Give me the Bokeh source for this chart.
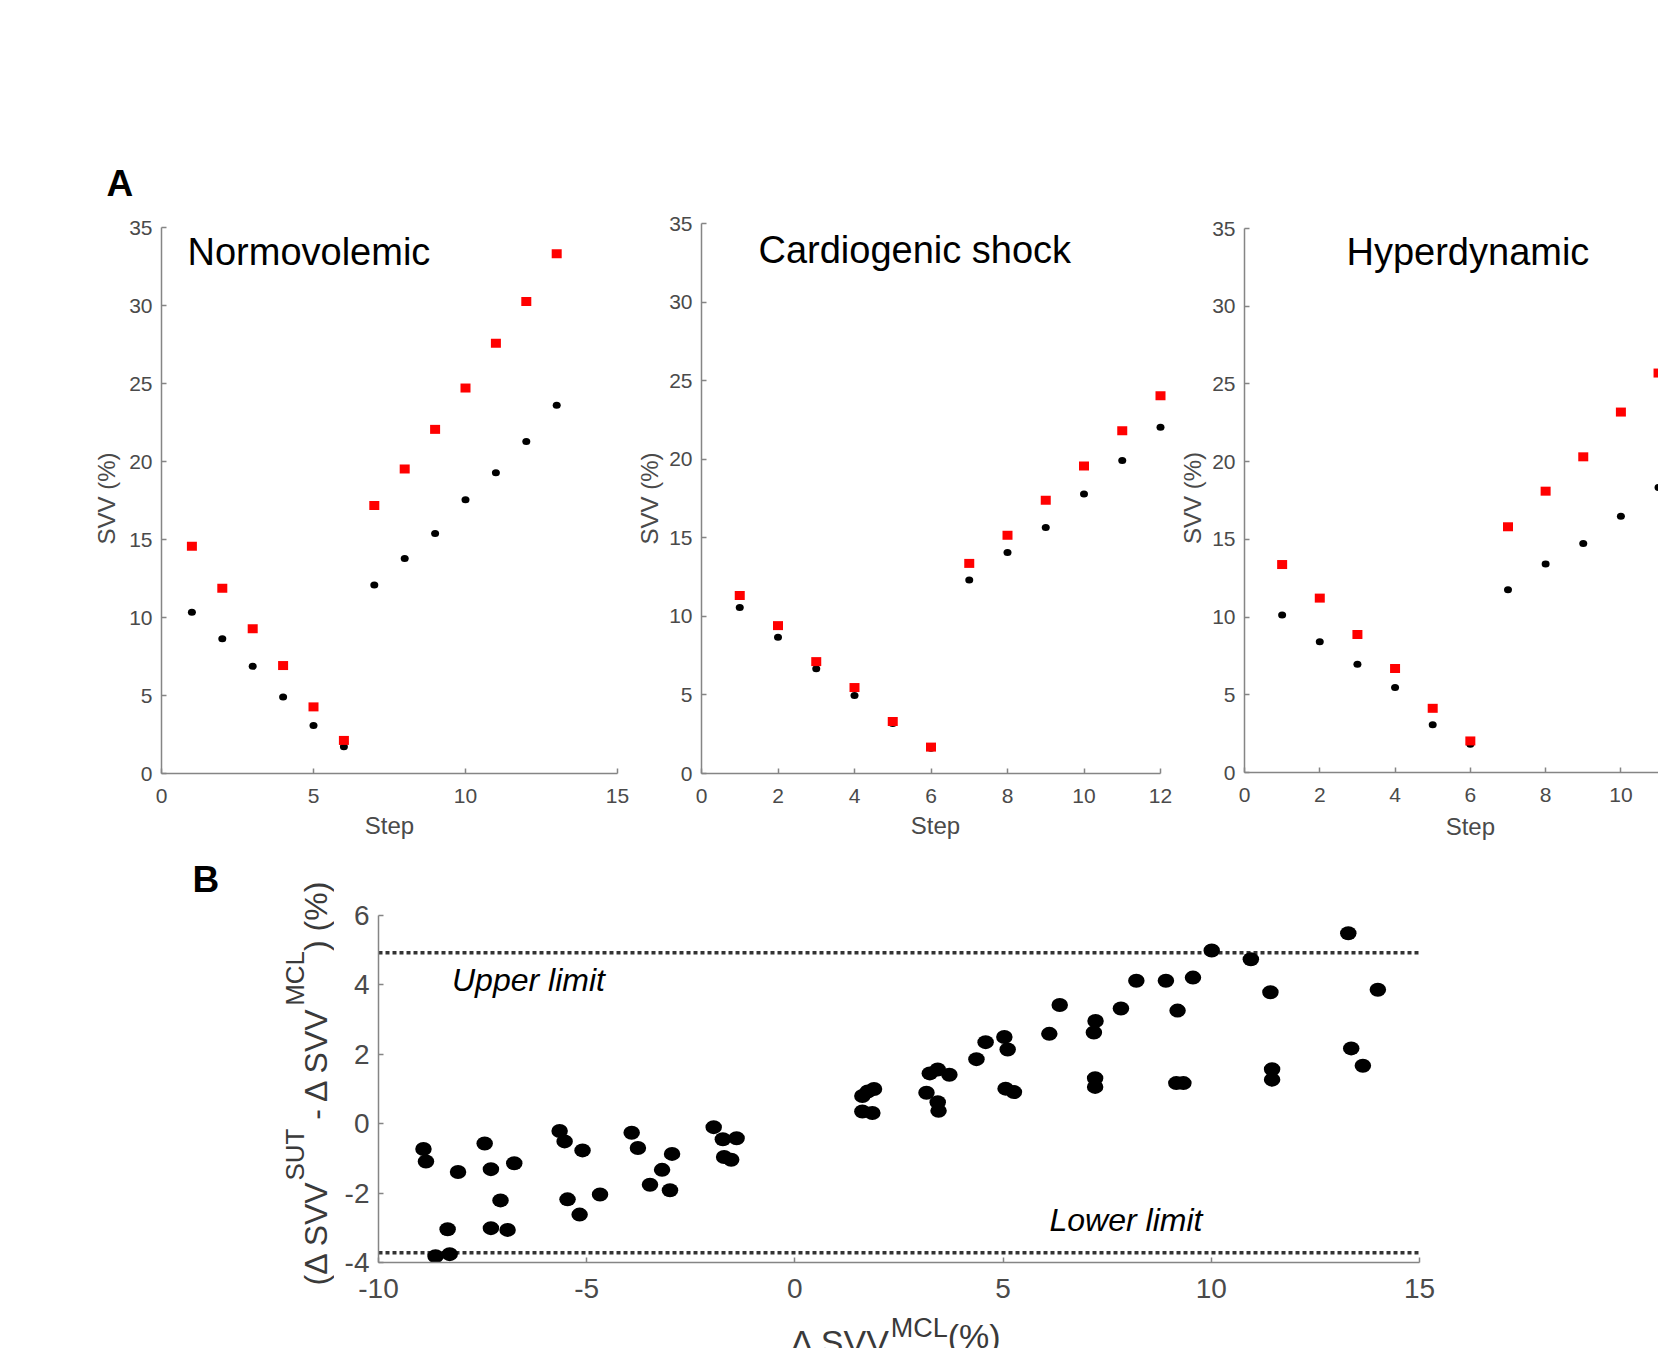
import math
from bokeh.plotting import figure
from bokeh.models import Range1d, FixedTicker, Label, Span
from bokeh.layouts import column, row
from bokeh.embed import file_html
from bokeh.resources import INLINE

# ---------------- data ----------------
steps_norm = [1, 2, 3, 4, 5, 6, 7, 8, 9, 10, 11, 12, 13]
norm_red = [14.56, 11.88, 9.28, 6.92, 4.27, 2.12, 17.18, 19.52, 22.06, 24.71, 27.58, 30.26, 33.31]
norm_black = [10.34, 8.64, 6.87, 4.91, 3.08, 1.72, 12.09, 13.79, 15.38, 17.55, 19.28, 21.29, 23.60]

steps_card = [1, 2, 3, 4, 5, 6, 7, 8, 9, 10, 11, 12]
card_red = [11.32, 9.41, 7.12, 5.47, 3.31, 1.68, 13.37, 15.16, 17.39, 19.57, 21.81, 24.04]
card_black = [10.56, 8.67, 6.67, 4.97, 3.18, 1.60, 12.32, 14.06, 15.66, 17.79, 19.92, 22.04]

steps_hyper = [1, 2, 3, 4, 5, 6, 7, 8, 9, 10, 11]
hyper_red = [13.38, 11.22, 8.88, 6.69, 4.13, 2.03, 15.81, 18.10, 20.31, 23.19, 25.70]
hyper_black = [10.13, 8.42, 6.96, 5.47, 3.07, 1.81, 11.76, 13.41, 14.74, 16.48, 18.34]

ba_x = [-8.92, -8.86, -8.09, -8.34, -8.63, -8.29,
        -7.45, -7.30, -6.74, -7.07, -7.30, -6.90,
        -5.65, -5.53, -5.10, -5.46, -5.17, -4.68,
        -3.92, -3.77, -2.95, -3.19, -3.48, -3.00,
        -1.95, -1.73, -1.40, -1.70, -1.53,
        1.62, 1.75, 1.90, 1.62, 1.86,
        3.16, 3.43, 3.24, 3.71, 3.43, 3.45,
        4.36, 4.58, 5.03, 5.11, 5.06, 5.26,
        6.11, 6.36, 7.22, 7.18, 7.21, 7.21,
        7.83, 8.20, 8.91, 9.19, 9.16, 9.33,
        9.56, 10.01, 10.95, 11.42, 11.46, 11.46,
        13.29, 13.36, 13.64, 14.00]
ba_y = [-0.73, -1.09, -1.39, -3.04, -3.82, -3.76,
        -0.57, -1.31, -1.14, -2.21, -3.01, -3.06,
        -0.21, -0.51, -0.77, -2.18, -2.62, -2.04,
        -0.26, -0.70, -0.87, -1.33, -1.76, -1.92,
        -0.10, -0.45, -0.42, -0.96, -1.04,
        0.80, 0.93, 1.00, 0.35, 0.31,
        0.89, 1.56, 1.45, 1.41, 0.62, 0.37,
        1.86, 2.35, 2.50, 2.14, 1.01, 0.91,
        2.59, 3.42, 2.96, 2.63, 1.31, 1.06,
        3.32, 4.12, 4.12, 3.26, 1.17, 1.17,
        4.21, 4.99, 4.74, 3.79, 1.57, 1.27,
        5.49, 2.17, 1.67, 3.86]
upper_limit = 4.93
lower_limit = -3.72

svv_ticks = [0, 5, 10, 15, 20, 25, 30, 35]
norm_xticks = [0, 5, 10, 15]
step_xticks = [0, 2, 4, 6, 8, 10, 12]
ba_xticks = [-10, -5, 0, 5, 10, 15]
ba_yticks = [-4, -2, 0, 2, 4, 6]

# ---------------- style ----------------
FONT = "Liberation Sans"
AXIS_GRAY = "#858585"
TICK_GRAY = "#4a4a4a"
LABEL_DARK = "#3a3a3a"
EM = {'(': 0.333, ')': 0.333, 'Δ': 0.667, ' ': 0.278, 'S': 0.667, 'V': 0.667,
      'U': 0.722, 'T': 0.611, '-': 0.333, 'M': 0.833, 'C': 0.722, 'L': 0.556, '%': 0.889}


def em_width(s):
    return sum(EM.get(c, 0.556) for c in s)


def make_fig(width, height, xr, yr, lb, rb, tb, bb):
    p = figure(width=width, height=height, x_range=Range1d(*xr), y_range=Range1d(*yr),
               output_backend="svg", toolbar_location=None, title=None,
               min_border_left=lb, min_border_right=rb, min_border_top=tb, min_border_bottom=bb)
    p.outline_line_color = None
    p.grid.visible = False
    p.background_fill_color = "white"
    p.border_fill_color = "white"
    return p


def text_fig(width, height, x0, x1, y0, y1):
    """text-only figure; its frame spans page x0..x1, y0..y1 so data == page px"""
    p = figure(width=width, height=height, x_range=Range1d(x0, x1), y_range=Range1d(y1, y0),
               output_backend="svg", toolbar_location=None, title=None,
               x_axis_type=None, y_axis_type=None,
               min_border_left=0, min_border_right=0, min_border_top=0, min_border_bottom=0)
    p.outline_line_color = None
    p.grid.visible = False
    p.background_fill_color = "white"
    p.border_fill_color = "white"
    return p


def style_axes(p, xticks, yticks, tick_size, xstand, ystand):
    for ax in (p.xaxis[0], p.yaxis[0]):
        ax.axis_line_color = AXIS_GRAY
        ax.axis_line_width = 1.5
        ax.major_tick_line_color = AXIS_GRAY
        ax.major_tick_line_width = 1.5
        ax.major_tick_in = 5
        ax.major_tick_out = 0
        ax.minor_tick_line_color = None
        ax.major_label_text_font = FONT
        ax.major_label_text_font_size = tick_size
        ax.major_label_text_color = TICK_GRAY
        ax.axis_label_text_font = FONT
        ax.axis_label_text_font_style = "normal"
        ax.axis_label_text_color = TICK_GRAY
        ax.axis_label_text_font_size = "24px"
    p.xaxis[0].ticker = FixedTicker(ticks=xticks)
    p.yaxis[0].ticker = FixedTicker(ticks=yticks)
    p.xaxis[0].major_label_overrides = {t: str(t) for t in xticks}
    p.yaxis[0].major_label_overrides = {t: str(t) for t in yticks}
    p.xaxis[0].major_label_standoff = xstand
    p.yaxis[0].major_label_standoff = ystand


class Geom:
    """page-pixel geometry of a frame, for converting page positions to data"""
    def __init__(self, left, right, top, bottom, x0, x1, y0, y1):
        self.left, self.right, self.top, self.bottom = left, right, top, bottom
        self.x0, self.x1, self.y0, self.y1 = x0, x1, y0, y1

    def x(self, px):
        return self.x0 + (px - self.left) * (self.x1 - self.x0) / (self.right - self.left)

    def y(self, py):
        return self.y0 + (self.bottom - py) * (self.y1 - self.y0) / (self.bottom - self.top)


class PageGeom:
    """identity mapping for text figures (data == page px)"""
    def x(self, px):
        return px

    def y(self, py):
        return py


PAGE = PageGeom()


def add_text(p, g, px, py, text, size, align="left", style="normal", angle=0.0, color="black"):
    # (px, py): start (or centre) of the text and the vertical middle of its capitals
    p.add_layout(Label(x=g.x(px), y=g.y(py), text=text, text_font=FONT,
                       text_font_size=f"{size}px", text_font_style=style,
                       text_color=color, text_align=align, text_baseline="alphabetic",
                       angle=angle))


def svv_panel(p, steps, red, black):
    p.ellipse(x=steps, y=black, width=8, height=7, width_units="screen",
              height_units="screen", fill_color="black", line_color=None)
    p.rect(x=steps, y=red, width=10, height=9, width_units="screen",
           height_units="screen", fill_color="#ff0000", line_color=None)


ROW_TOP, ROW_BOT = 207, 850
ROW_H = ROW_BOT - ROW_TOP
FRAME_TOP = 223  # common frame top of the three panels (rows align their frames)

# ---- header strip with panel letter A ----
header = text_fig(1658, ROW_TOP, 0, 1658, 0, ROW_TOP)
add_text(header, PAGE, 106, 183, "A", 37, style="bold")

# ---- panel A1: Normovolemic (page x 0..629); its y axis tops out at page 227 ----
F1_R = 629
y_end1 = 35 * (773 - FRAME_TOP) / (773 - 227)
g1 = Geom(161, 617, FRAME_TOP, 773, 0, 15, 0, y_end1)
f1 = make_fig(F1_R, ROW_H, (0, 15), (0, y_end1), 161, F1_R - 617, FRAME_TOP - ROW_TOP, ROW_BOT - 773)
style_axes(f1, norm_xticks, svv_ticks, "21px", 15, 9)
f1.yaxis.bounds = (0, 35)
f1.xaxis.axis_label = "Step"
f1.yaxis.axis_label = "SVV (%)"
f1.xaxis.axis_label_standoff = 6
f1.yaxis.axis_label_standoff = 6
svv_panel(f1, steps_norm, norm_red, norm_black)
add_text(f1, g1, 187, 251, "Normovolemic", 38)

# ---- panel A2: Cardiogenic shock (page x 629..1172) ----
F2_R = 1172
px_per_step2 = 38.25
x_end2 = (1169 - 701) / px_per_step2
g2 = Geom(701, 1169, FRAME_TOP, 773, 0, x_end2, 0, 35)
f2 = make_fig(F2_R - F1_R, ROW_H, (0, x_end2), (0, 35), 701 - F1_R, F2_R - 1169,
              FRAME_TOP - ROW_TOP, ROW_BOT - 773)
style_axes(f2, step_xticks, svv_ticks, "21px", 15, 9)
f2.xaxis.bounds = (0, 12)
f2.yaxis.bounds = (0, 35)
f2.xaxis.axis_label = "Step"
f2.yaxis.axis_label = "SVV (%)"
f2.xaxis.axis_label_standoff = 6
f2.yaxis.axis_label_standoff = 3
svv_panel(f2, steps_card, card_red, card_black)
add_text(f2, g2, 758, 249.5, "Cardiogenic shock", 38)

# ---- panel A3: Hyperdynamic (page x 1172..1658, cut at the window edge) ----
px_per_step3 = 37.64
x_end3 = (1658 - 1244) / px_per_step3
y_end3 = 35 * (772 - FRAME_TOP) / (772 - 228)
F3_BOT = 810
g3 = Geom(1244, 1658, FRAME_TOP, 772, 0, x_end3, 0, y_end3)
f3 = make_fig(1658 - F2_R, F3_BOT - ROW_TOP, (0, x_end3), (0, y_end3), 1244 - F2_R, 0,
              FRAME_TOP - ROW_TOP, F3_BOT - 772)
style_axes(f3, step_xticks, svv_ticks, "21px", 15, 9)
f3.yaxis.bounds = (0, 35)
f3.yaxis.axis_label = "SVV (%)"
f3.yaxis.axis_label_standoff = 3
svv_panel(f3, steps_hyper, hyper_red, hyper_black)
add_text(f3, g3, 1346, 251.5, "Hyperdynamic", 38)
# strip under panel A3 (its frame lines up with the panel's frame: page x 1244..1658)
step3 = text_fig(1658 - F2_R, ROW_BOT - F3_BOT, 1244, 1658, F3_BOT, ROW_BOT)
add_text(step3, PAGE, 1244 + 6 * px_per_step3, 826, "Step", 24, align="center", color=TICK_GRAY)

# ---- panel B: Bland-Altman (page y 850..1348) ----
YLAB_R = 334
FB_BOT = 1315
ylab = text_fig(YLAB_R, 1348 - ROW_BOT, 0, YLAB_R, ROW_BOT, 1348)
add_text(ylab, PAGE, 192, 879, "B", 37, style="bold")
MAIN, SUP = 32, 26
main_mid_x, sup_mid_x = 315.0, 294.0
cursor = 1285.0
for txt, is_sup, lead in [("(Δ SVV", False, 0), ("SUT", True, 0), ("- Δ SVV", False, 1),
                          ("MCL", True, 0), (") (%)", False, 0)]:
    cursor -= lead * EM[' '] * MAIN
    size = SUP if is_sup else MAIN
    add_text(ylab, PAGE, sup_mid_x if is_sup else main_mid_x, cursor, txt, size,
             angle=math.pi / 2, color=LABEL_DARK)
    cursor -= em_width(txt) * size

gB = Geom(378, 1419, 915, 1262, -10, 15, -4, 6)
fB = make_fig(1658 - YLAB_R, FB_BOT - ROW_BOT, (-10, 15), (-4, 6),
              378 - YLAB_R, 1658 - 1419, 915 - ROW_BOT, FB_BOT - 1262)
style_axes(fB, ba_xticks, ba_yticks, "28px", 16, 9)
for lim in (upper_limit, lower_limit):
    fB.add_layout(Span(location=lim, dimension="width", line_color="#333333",
                       line_width=3.5, line_dash="4 3", level="underlay"))
fB.ellipse(x=ba_x, y=ba_y, width=16.5, height=14, width_units="screen",
           height_units="screen", fill_color="black", line_color=None)
add_text(fB, gB, 451.5, 979, "Upper limit", 32, style="italic")
add_text(fB, gB, 1049, 1219.5, "Lower limit", 32, style="italic")

# x label with superscript (cut by the page bottom, as in the reference);
# the strip's frame lines up with panel B's frame: page x 378..1419
xlab = text_fig(1658 - YLAB_R, 1348 - FB_BOT, 378, 1419, FB_BOT, 1348)
XMAIN, XSUP = 34, 27
cursor = 790.0
for txt, is_sup, mid_y in [("Δ SVV", False, 1341.7), ("MCL", True, 1327), ("(%)", False, 1335.6)]:
    size = XSUP if is_sup else XMAIN
    add_text(xlab, PAGE, cursor, mid_y, txt, size, color=LABEL_DARK)
    cursor += em_width(txt) * size

layout = column(header,
                row(f1, f2, column(f3, step3)),
                row(ylab, column(fB, xlab)))
open("out.html", "w").write(file_html(layout, INLINE))
